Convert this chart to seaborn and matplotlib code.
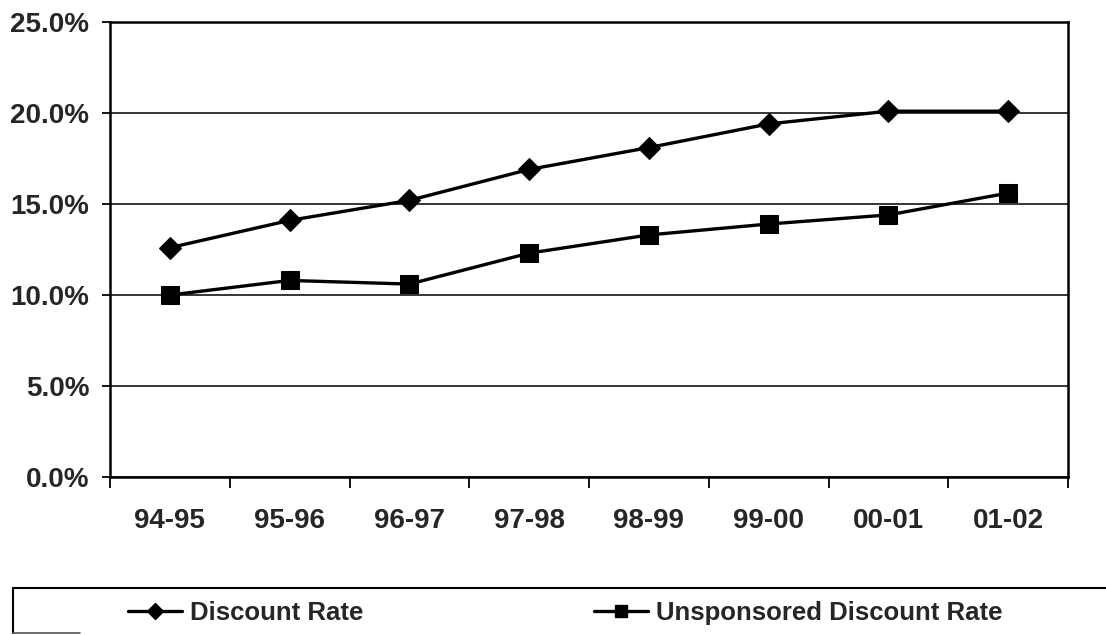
import matplotlib
matplotlib.use("Agg")
import matplotlib.pyplot as plt
from matplotlib.lines import Line2D
from matplotlib.ticker import FixedLocator, FuncFormatter
import seaborn as sns
import pandas as pd

# ---- data ----
years = ["94-95", "95-96", "96-97", "97-98", "98-99", "99-00", "00-01", "01-02"]
discount_rate = [12.6, 14.1, 15.2, 16.9, 18.1, 19.4, 20.1, 20.1]
unsponsored_rate = [10.0, 10.8, 10.6, 12.3, 13.3, 13.9, 14.4, 15.6]
y_ticks = [0, 5, 10, 15, 20, 25]

sns.set_style("white")
plt.rcParams["font.family"] = ["Liberation Sans", "DejaVu Sans"]
plt.rcParams["font.weight"] = "bold"

df = pd.DataFrame({
    "pos": list(range(len(years))) * 2,
    "year": years * 2,
    "rate": discount_rate + unsponsored_rate,
    "series": ["Discount Rate"] * len(years) + ["Unsponsored Discount Rate"] * len(years),
})

fig = plt.figure(figsize=(11.06, 6.35), dpi=100)
ax = fig.add_axes([110 / 1106, 1 - 477 / 635, (1068 - 110) / 1106, (477 - 22) / 635])

d1 = df[df.series == "Discount Rate"]
d2 = df[df.series == "Unsponsored Discount Rate"]
sns.lineplot(data=d1, x="pos", y="rate", color="black", marker="D", markersize=11,
             markeredgecolor="black", linewidth=2.4, ax=ax, legend=False)
sns.lineplot(data=d2, x="pos", y="rate", color="black", marker="s", markersize=12.5,
             markeredgecolor="black", linewidth=2.4, ax=ax, legend=False)

ax.set_xlim(-0.5, len(years) - 0.5)
ax.set_ylim(0, 25)

# y axis
ax.yaxis.set_major_locator(FixedLocator(y_ticks))
ax.yaxis.set_major_formatter(FuncFormatter(lambda v, p: f"{v:.1f}%"))
ax.tick_params(axis="y", which="major", direction="out", length=6, width=1.3,
               color="black", pad=9, labelsize=20, left=True)
ax.grid(axis="y", color="black", linewidth=1.1)
ax.set_axisbelow(True)

# x axis: ticks at boundaries, labels at centres
ax.xaxis.set_major_locator(FixedLocator([i - 0.5 for i in range(len(years) + 1)]))
ax.xaxis.set_major_formatter(FuncFormatter(lambda v, p: ""))
ax.xaxis.set_minor_locator(FixedLocator(list(range(len(years)))))
ax.set_xticklabels(years, minor=True)
ax.tick_params(axis="x", which="major", direction="out", length=8, width=1.3,
               color="black", bottom=True)
ax.tick_params(axis="x", which="minor", length=0, pad=22, labelsize=20)
for lab in ax.get_xticklabels(minor=True) + ax.get_yticklabels():
    lab.set_fontweight("bold")

ax.set_xlabel("")
ax.set_ylabel("")
for s in ax.spines.values():
    s.set_visible(True)
    s.set_color("black")
    s.set_linewidth(1.8)

# legend
handles = [
    Line2D([], [], color="black", linewidth=2.4, marker="D", markersize=8.5),
    Line2D([], [], color="black", linewidth=2.4, marker="s", markersize=9),
]
leg = fig.legend(handles, ["Discount Rate", "Unsponsored Discount Rate"],
                 loc="center left", bbox_to_anchor=(128 / 1106, 1 - 613 / 635),
                 ncol=2, frameon=False, borderpad=0, borderaxespad=0,
                 handlelength=2.1, handletextpad=0.3, columnspacing=9.0,
                 prop={"size": 18.5, "weight": "bold"})

# legend box (top and left edges, short bottom piece as in the scan)
fig.add_artist(Line2D([13 / 1106, 1.0], [1 - 588 / 635, 1 - 588 / 635],
                      transform=fig.transFigure, color="black", linewidth=1.5))
fig.add_artist(Line2D([13 / 1106, 13 / 1106], [1 - 588 / 635, 1 - 633 / 635],
                      transform=fig.transFigure, color="black", linewidth=1.5))
fig.add_artist(Line2D([13 / 1106, 80 / 1106], [1 - 633 / 635, 1 - 633 / 635],
                      transform=fig.transFigure, color="#555555", linewidth=1.2))

fig.savefig("out.png", dpi=100)
